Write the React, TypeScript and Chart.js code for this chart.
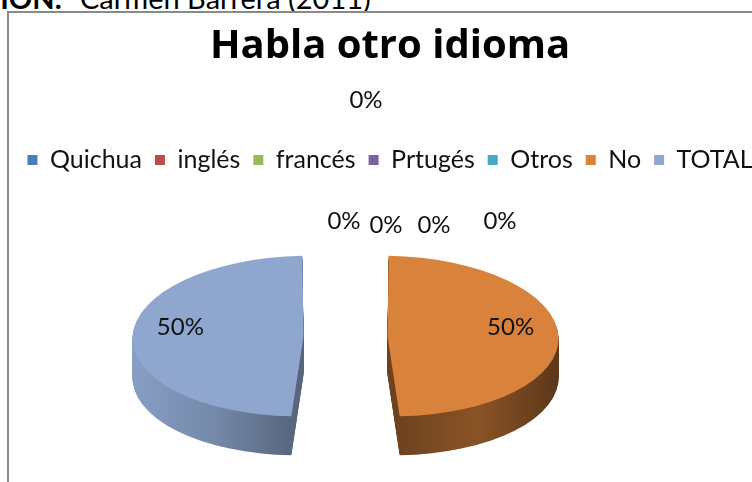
import React, { useEffect, useRef } from "react";
import { Chart, registerables, layouts } from "chart.js";

Chart.register(...registerables);

const CATEGORIES = ["Quichua", "inglés", "francés", "Prtugés", "Otros", "No", "TOTAL"];
const VALUES = [0, 0, 0, 0, 0, 30, 30];
const COLORS = ["#4A7EBB", "#BE4B48", "#98B954", "#7D60A0", "#46AAC5", "#D8823C", "#8FA7CF"];
const TITLE = "Habla otro idioma";
const SOURCE_BOLD = "ELABORACIÓN:";
const SOURCE_TEXT = "Carmen Barrera (2011)";

const FONT = "Lato, 'Open Sans', sans-serif";
const TITLE_FONT = "'Open Sans', Lato, sans-serif";
const RATIO = 0.47; // vertical squash of the tilted pie
const DEPTH = 39; // thickness of the 3D side
const SKEW = 0.032; // perspective lean of the cut faces
const EXPLODE = 168; // chart.js offset (translation = offset / 4)
const SPACER = 89;
const LABEL_R = 0.72;
const LABEL_DY = -9;
const ZERO_NUDGE = [
  [20.5, -155.5],
  [-1.5, -34.5],
  [40.5, -30.5],
  [88.5, -30.5],
  [154.5, -34.5],
];

function hexToRgb(h: string) {
  const n = parseInt(h.slice(1), 16);
  return [(n >> 16) & 255, (n >> 8) & 255, n & 255];
}
function shade(h: string, f: number) {
  const [r, g, b] = hexToRgb(h);
  return `rgb(${Math.round(r * f)},${Math.round(g * f)},${Math.round(b * f)})`;
}

function applyTilt(ctx: CanvasRenderingContext2D, x: number, y: number, k: number, d: number) {
  ctx.translate(x, y + d);
  ctx.transform(1, 0, k, RATIO, 0, 0);
  ctx.translate(-x, -y);
}

const spacerPlugin = {
  id: "rightSpacer",
  beforeInit(chart: any) {
    const box: any = {
      position: "right",
      weight: 0,
      fullSize: false,
      options: {},
      left: 0,
      top: 0,
      right: 0,
      bottom: 0,
      width: 0,
      height: 0,
      isHorizontal: () => false,
      update(_w: number, h: number) {
        this.width = SPACER;
        this.height = h;
      },
      draw() {},
    };
    layouts.addBox(chart, box);
  },
};

const pie3dPlugin = {
  id: "pie3d",
  beforeDatasetDraw(chart: any, args: any) {
    const ctx: CanvasRenderingContext2D = chart.ctx;
    const arcs = args.meta.data;
    const visible = arcs.filter((a: any) => a.circumference > 0);
    // side walls
    visible.forEach((arc: any) => {
      const mid = (arc.startAngle + arc.endAngle) / 2;
      const right = Math.cos(mid) > 0;
      const k = right ? SKEW : -SKEW;
      const base = arc.options.backgroundColor as string;
      const R = arc.outerRadius + arc.options.offset / 4;
      const stops = right ? [0.5, 0.64, 0.42] : [0.95, 0.82, 0.6];
      for (let d = DEPTH; d >= 1; d--) {
        ctx.save();
        applyTilt(ctx, arc.x, arc.y, k, d);
        const x0 = right ? arc.x : arc.x - R;
        const g = ctx.createLinearGradient(x0, 0, x0 + R, 0);
        g.addColorStop(0, shade(base, stops[0]));
        g.addColorStop(0.5, shade(base, stops[1]));
        g.addColorStop(1, shade(base, stops[2]));
        const orig = arc.options;
        arc.options = { ...orig, backgroundColor: g, borderColor: g, borderWidth: 0 };
        arc.draw(ctx);
        arc.options = orig;
        ctx.restore();
      }
    });
    // top faces
    visible.forEach((arc: any) => {
      const mid = (arc.startAngle + arc.endAngle) / 2;
      const k = Math.cos(mid) > 0 ? SKEW : -SKEW;
      ctx.save();
      applyTilt(ctx, arc.x, arc.y, k, 0);
      arc.draw(ctx);
      ctx.restore();
    });
    // labels
    const total = VALUES.reduce((a, b) => a + b, 0);
    ctx.save();
    ctx.font = `24px ${FONT}`;
    ctx.fillStyle = "#111";
    ctx.textAlign = "center";
    ctx.textBaseline = "middle";
    let z = 0;
    arcs.forEach((arc: any, i: number) => {
      const pct = Math.round((VALUES[i] / total) * 100) + "%";
      const off = arc.options.offset / 4;
      const R = arc.outerRadius + off;
      if (arc.circumference > 0) {
        const mid = (arc.startAngle + arc.endAngle) / 2;
        const k = Math.cos(mid) > 0 ? SKEW : -SKEW;
        const dist = off + LABEL_R * R;
        const dx = Math.cos(mid) * dist;
        const dy = Math.sin(mid) * dist;
        ctx.fillText(pct, arc.x + dx + k * dy, arc.y + RATIO * dy + LABEL_DY);
      } else {
        const n = ZERO_NUDGE[z++] || [0, 0];
        ctx.fillText(pct, arc.x + n[0], arc.y - RATIO * R + n[1]);
      }
    });
    ctx.restore();
    return false;
  },
};

export default function App() {
  const ref = useRef<HTMLCanvasElement | null>(null);
  useEffect(() => {
    if (!ref.current) return;
    const chart = new Chart(ref.current, {
      type: "pie",
      data: {
        labels: CATEGORIES,
        datasets: [
          {
            data: VALUES,
            backgroundColor: COLORS,
            borderColor: COLORS,
            borderWidth: 0,
            offset: EXPLODE,
            radius: 129,
          } as any,
        ],
      },
      options: {
        animation: false,
        responsive: false,
        maintainAspectRatio: false,
        events: [],
        layout: { padding: { bottom: 23.5 } },
        plugins: {
          title: {
            display: true,
            text: TITLE,
            color: "#000",
            font: { family: TITLE_FONT, size: 40, weight: "bold" },
            padding: { top: 10, bottom: 63.5 },
          },
          legend: {
            display: true,
            position: "top",
            labels: {
              color: "#111",
              font: { family: FONT, size: 25 },
              boxWidth: 10,
              boxHeight: 10,
              padding: 13,
            },
          },
          tooltip: { enabled: false },
        },
      } as any,
      plugins: [spacerPlugin, pie3dPlugin] as any,
    });
    return () => chart.destroy();
  }, []);

  return (
    <div
      style={{
        position: "fixed",
        left: 0,
        top: 0,
        width: 752,
        height: 482,
        overflow: "hidden",
        background: "#fff",
        fontFamily: FONT,
      }}
    >
      <div
        style={{
          position: "absolute",
          right: 752 - 62,
          top: -16.7,
          fontSize: 29,
          lineHeight: "29px",
          fontWeight: "bold",
          whiteSpace: "nowrap",
          color: "#000",
        }}
      >
        {SOURCE_BOLD}
      </div>
      <div
        style={{
          position: "absolute",
          left: 80,
          top: -16.7,
          fontSize: 29,
          lineHeight: "29px",
          whiteSpace: "nowrap",
          color: "#000",
        }}
      >
        {SOURCE_TEXT}
      </div>
      <div
        style={{
          position: "absolute",
          left: 7,
          top: 11,
          width: 762,
          height: 500,
          borderLeft: "2px solid #8a8a8a",
          borderTop: "2px solid #8a8a8a",
        }}
      >
        <canvas ref={ref} width={762} height={500} style={{ display: "block", width: 762, height: 500 }} />
      </div>
    </div>
  );
}
